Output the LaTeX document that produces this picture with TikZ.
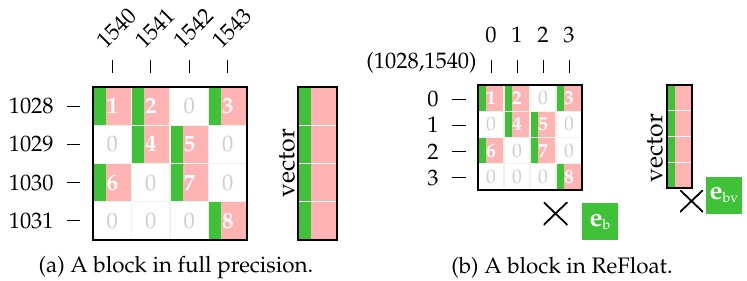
\documentclass[tikz,border=0pt]{standalone}
\usepackage[T1]{fontenc}
\usepackage{mathpazo}
\usepackage{tikz}
\usetikzlibrary{positioning}

\definecolor{nzgreen}{RGB}{64,194,56}
\definecolor{nzpink}{RGB}{255,179,179}
\definecolor{zerogray}{RGB}{205,205,205}
\definecolor{gridcol}{RGB}{236,247,236}

\newcommand\subsc[1]{\raisebox{-1.5pt}{\fontsize{7}{8}\selectfont\mdseries #1}}

\begin{document}
\begin{tikzpicture}[
    x=0.5pt, y=-0.5pt,
    every node/.style={font=\fontsize{11.2}{13}\selectfont},
    numtext/.style={text=white, font=\fontsize{11.5}{12}\selectfont\bfseries, inner sep=0pt},
    smallnum/.style={numtext, font=\fontsize{9.8}{11}\selectfont\bfseries},
    zerotext/.style={text=zerogray, inner sep=0pt},
    smallzero/.style={zerotext, font=\fontsize{9.8}{11}\selectfont},
    collbl/.style={rotate=45, anchor=south west, inner sep=0pt},
    veclbl/.style={rotate=90, inner sep=0pt, font=\fontsize{12.5}{14}\selectfont},
    axistick/.style={draw=black, line width=0.5pt},
    gridline/.style={draw=gridcol, line width=0.6pt},
    sepline/.style={draw=white, line width=0.6pt},
    frame/.style={draw=black, line width=0.6pt},
    ebox/.style={fill=nzgreen, text=white, font=\fontsize{13}{14}\selectfont, minimum width=18pt, minimum height=18.5pt, inner sep=0pt},
    cross/.style={minimum width=12pt, minimum height=11.5pt, inner sep=0pt,
        path picture={\draw [line width=0.9pt]
            (path picture bounding box.north west) -- (path picture bounding box.south east)
            (path picture bounding box.north east) -- (path picture bounding box.south west);}}
]
    \useasboundingbox (0,0) rectangle (747,280);

    % (a) full precision block
    \foreach \r/\vals in {0/{1,2,0,3},1/{0,4,5,0},2/{6,0,7,0},3/{0,0,0,8}} {
        \foreach \v [count=\c from 0] in \vals {
            \pgfmathsetmacro\xa{93+38.5*\c}
            \pgfmathsetmacro\ya{87+38.25*\r}
            \ifnum\v=0
                \node [zerotext] (a\r\c) at (\xa+19.25,\ya+19.1) {0};
            \else
                \fill [nzgreen] (\xa,\ya) rectangle ++(12.5,38.25);
                \fill [nzpink] (\xa+12.5,\ya) rectangle ++(26,38.25);
                \node [numtext] (a\r\c) at (\xa+19.25,\ya+19.1) {\v};
            \fi
        }
    }
    \foreach \k in {1,2,3} {
        \draw [gridline] (93+38.5*\k,87) -- (93+38.5*\k,240);
        \draw [gridline] (93,87+38.25*\k) -- (247,87+38.25*\k);
    }
    \draw [frame] (93,87) rectangle (247,240);

    \foreach \t [count=\c from 0] in {1540,1541,1542,1543} {
        \pgfmathsetmacro\tx{112.25+38.5*\c}
        \draw [axistick] (\tx,60) -- (\tx,73);
        \node [collbl] (ca\c) at (\tx-6,50) {\t};
    }
    \foreach \t [count=\r from 0] in {1028,1029,1030,1031} {
        \pgfmathsetmacro\ty{106.1+38.25*\r}
        \node [anchor=east, inner sep=0pt] (ra\r) at (54,\ty) {\t};
        \draw [axistick] (67,\ty) -- (80,\ty);
    }

    \fill [nzgreen] (298,87) rectangle (311,240);
    \fill [nzpink] (311,87) rectangle (337,240);
    \foreach \k in {1,2,3}
        \draw [sepline] (298,87+38.25*\k) -- (337,87+38.25*\k);
    \draw [frame] (298,87) rectangle (337,240);
    \node [veclbl] (veca) at (287,163) {vector};

    \node (capa) at (176,268) {(a) A block in full precision.};

    % (b) ReFloat block
    \foreach \r/\vals in {0/{1,2,0,3},1/{0,4,5,0},2/{6,0,7,0},3/{0,0,0,8}} {
        \foreach \v [count=\c from 0] in \vals {
            \pgfmathsetmacro\xb{478+26*\c}
            \pgfmathsetmacro\yb{85+26.25*\r}
            \ifnum\v=0
                \node [smallzero] (b\r\c) at (\xb+13,\yb+13.1) {0};
            \else
                \fill [nzgreen] (\xb,\yb) rectangle ++(8,26.25);
                \fill [nzpink] (\xb+8,\yb) rectangle ++(18,26.25);
                \node [smallnum] (b\r\c) at (\xb+13,\yb+13.1) {\v};
            \fi
        }
    }
    \foreach \k in {1,2,3} {
        \draw [gridline] (478+26*\k,85) -- (478+26*\k,190);
        \draw [gridline] (478,85+26.25*\k) -- (582,85+26.25*\k);
    }
    \draw [frame] (478,85) rectangle (582,190);

    \foreach \c in {0,1,2,3} {
        \pgfmathsetmacro\tx{491+26*\c}
        \draw [axistick] (\tx,60) -- (\tx,73);
        \node (cb\c) at (\tx,35) {\c};
    }
    \node [anchor=east, inner sep=0pt] (origin) at (477,63) {(1028,1540)};
    \foreach \r in {0,1,2,3} {
        \pgfmathsetmacro\ty{99+26.25*\r}
        \node (rb\r) at (433,\ty) {\r};
        \draw [axistick] (452,\ty) -- (466,\ty);
    }

    \fill [nzgreen] (667,85) rectangle (675,188);
    \fill [nzpink] (675,85) rectangle (692,188);
    \foreach \k in {1,2,3}
        \draw [sepline] (667,85+25.75*\k) -- (692,85+25.75*\k);
    \draw [frame] (667,85) rectangle (692,188);
    \node [veclbl] (vecb) at (655,148) {vector};

    \node [cross] (xb) at (555.5,213.5) {};
    \node [ebox] (eb) at (600,221.5) {\textbf{e}\subsc{b}};
    \node [cross, minimum width=11.5pt, minimum height=11pt] (xbv) at (691.5,201) {};
    \node [ebox] (ebv) at (724,195) {\textbf{e}\subsc{bv}};

    \node (capb) at (562,268) {(b) A block in ReFloat.};
\end{tikzpicture}
\end{document}
